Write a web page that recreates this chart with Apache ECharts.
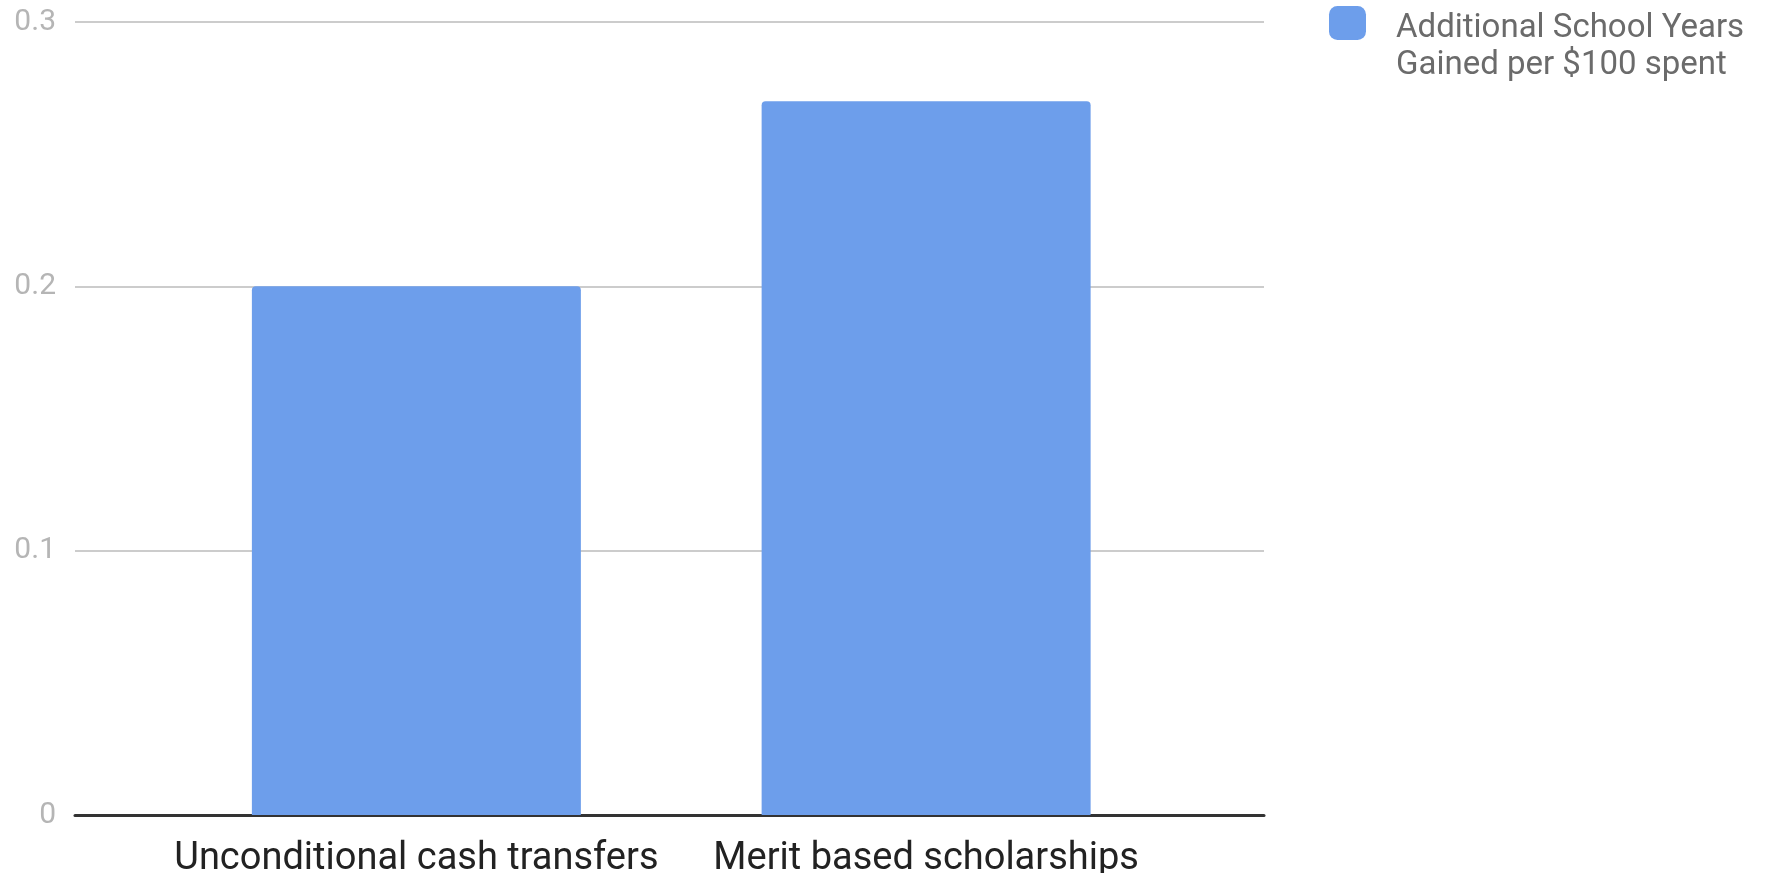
<!DOCTYPE html>
<html>
<head>
<meta charset="utf-8">
<script src="https://cdn.jsdelivr.net/npm/echarts@6/dist/echarts.min.js"></script>
<style>html,body{margin:0;padding:0;background:#fff}#c{width:1765px;height:873px}</style>
</head>
<body>
<div id="c"></div>
<script>
const categories = ['Unconditional cash transfers', 'Merit based scholarships'];
const seriesName = 'Additional School Years\nGained per $100 spent';
const values = [0.2, 0.27];
const yTicks = { min: 0, max: 0.3, interval: 0.1 };

const chart = echarts.init(document.getElementById('c'));
const font = 'Roboto';
chart.setOption({
  animation: false,
  backgroundColor: '#fff',
  textStyle: { fontFamily: font },
  grid: [
    { left: 75, right: 501, top: 22, bottom: 58, containLabel: false, outerBoundsMode: 'none' },
    { left: 161.5, right: 584, top: 22, bottom: 58, containLabel: false, outerBoundsMode: 'none' }
  ],
  xAxis: [
    { type: 'category', gridIndex: 0, data: categories,
      axisLine: { show: true, lineStyle: { color: '#333', width: 3 } },
      axisTick: { show: false }, axisLabel: { show: false }, splitLine: { show: false } },
    { type: 'category', gridIndex: 1, data: categories,
      axisLine: { show: false }, axisTick: { show: false },
      axisLabel: { color: '#222', fontSize: 38, margin: 25, interval: 0, fontFamily: font, hideOverlap: false } }
  ],
  yAxis: [
    { type: 'value', gridIndex: 0, min: yTicks.min, max: yTicks.max, interval: yTicks.interval,
      axisLine: { show: false }, axisTick: { show: false },
      axisLabel: { color: '#b5b5b5', fontSize: 30, margin: 19, fontFamily: font,
        formatter: v => (Math.round(v * 10) / 10).toString() },
      splitLine: { lineStyle: { color: '#cccccc', width: 2 } } },
    { type: 'value', gridIndex: 1, min: yTicks.min, max: yTicks.max, interval: yTicks.interval,
      show: false }
  ],
  legend: {
    show: true, left: 1329, top: -19, padding: 0, orient: 'vertical',
    itemWidth: 37, itemHeight: 34,
    icon: 'roundRect',
    formatter: name => '{b| }\n' + name.split('\n').map(s => '{a|' + s + '}').join('\n'),
    textStyle: {
      color: '#6b6b6b', fontSize: 33, fontFamily: font, padding: [0, 0, 0, 25],
      rich: {
        a: { color: '#6b6b6b', fontSize: 33, lineHeight: 37, fontFamily: font },
        b: { fontSize: 10, lineHeight: 48 }
      }
    },
    data: [{ name: seriesName, itemStyle: { borderRadius: 4 } }]
  },
  series: [{
    name: seriesName, type: 'bar', xAxisIndex: 1, yAxisIndex: 1,
    data: values, barWidth: 329,
    itemStyle: { color: '#6d9eeb', borderRadius: [4, 4, 0, 0] }
  }]
});
</script>
</body>
</html>
